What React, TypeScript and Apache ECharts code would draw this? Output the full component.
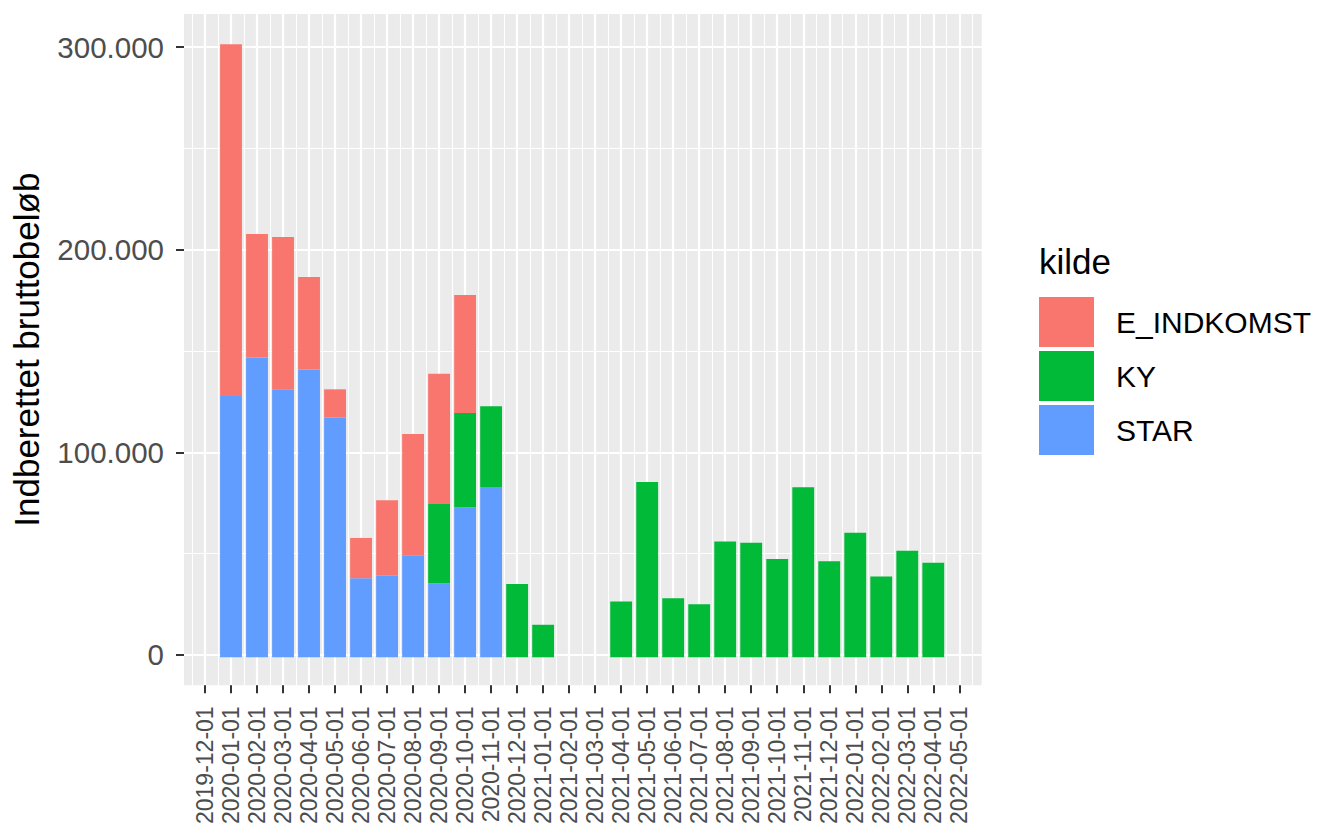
import React, { useEffect, useRef } from "react";
import * as echarts from "echarts";

const months: string[] = [
  "2019-12-01", "2020-01-01", "2020-02-01", "2020-03-01", "2020-04-01", "2020-05-01",
  "2020-06-01", "2020-07-01", "2020-08-01", "2020-09-01", "2020-10-01", "2020-11-01",
  "2020-12-01", "2021-01-01", "2021-02-01", "2021-03-01", "2021-04-01", "2021-05-01",
  "2021-06-01", "2021-07-01", "2021-08-01", "2021-09-01", "2021-10-01", "2021-11-01",
  "2021-12-01", "2022-01-01", "2022-02-01", "2022-03-01", "2022-04-01", "2022-05-01",
];

// one value per month in `months` (null = no bar)
const starValues: (number | null)[] = [
  null, 128500, 147400, 131800, 141500, 117900, 38900, 40100, 50200, 36400, 73800, 83800,
  null, null, null, null, null, null, null, null, null, null, null, null, null, null, null, null, null, null,
];
const kyValues: (number | null)[] = [
  null, null, null, null, null, null, null, null, null, 39000, 46400, 39700,
  36100, 16000, null, null, 27500, 86200, 29000, 26100, 56900, 56400, 48400, 83600, 47200, 61300, 39800, 52400, 46500, null,
];
const eIndkomstValues: (number | null)[] = [
  null, 173000, 60800, 74900, 45600, 13900, 19800, 37100, 59600, 64100, 58000, null,
  null, null, null, null, null, null, null, null, null, null, null, null, null, null, null, null, null, null,
];

const yMajorTicks: number[] = [0, 100000, 200000, 300000];
const yMinorTicks: number[] = [50000, 150000, 250000];

const FONT = "'Liberation Sans', Arial, sans-serif";

function fmtDa(v: number): string {
  const s = Math.round(v).toString();
  return s.replace(/\B(?=(\d{3})+(?!\d))/g, ".");
}

export default function App() {
  const ref = useRef<HTMLDivElement>(null);
  useEffect(() => {
    if (!ref.current) return;
    const chart = echarts.init(ref.current, null, { renderer: "svg" });
    const xMajor = months.map((_, i) => i);
    const xMinor = months.map((_, i) => i - 0.5).concat([months.length - 0.5]);
    const xMin = -0.807;
    const xMax = 29.86;
    const yMin = -15100;
    const yMax = 316400;
    const step = 26.01;
    const barLeft = 205 - step / 2;
    const barRight = 1317 - (barLeft + step * months.length);

    const option: any = {
      animation: false,
      backgroundColor: "#FFFFFF",
      textStyle: { fontFamily: FONT },
      grid: [
        {
          left: 184,
          right: 335.3,
          top: 14,
          bottom: 139,
          show: true,
          backgroundColor: "#EBEBEB",
          borderWidth: 0,
        },
        {
          left: barLeft,
          right: barRight,
          top: 14,
          bottom: 139,
          show: false,
        },
      ],
      legend: {
        orient: "vertical",
        left: 1039,
        top: 297,
        padding: 0,
        itemWidth: 55,
        itemHeight: 50,
        itemGap: 4,
        icon: "rect",
        data: ["E_INDKOMST", "KY", "STAR"],
        textStyle: { fontSize: 30, color: "#000000", fontFamily: FONT, padding: [0, 0, 0, 17] },
      },
      graphic: [
        {
          type: "text",
          left: 1039,
          top: 244,
          style: { text: "kilde", fontSize: 35, fill: "#000000", fontFamily: FONT },
        },
      ],
      xAxis: [
        {
          type: "value",
          gridIndex: 0,
          min: xMin,
          max: xMax,
          axisLine: { show: false, onZero: false },
          axisTick: {
            show: true,
            length: 8,
            lineStyle: { color: "#333333", width: 2 },
            customValues: xMajor,
          },
          axisLabel: {
            customValues: xMajor,
            rotate: 90,
            fontSize: 23,
            color: "#4D4D4D",
            margin: 21,
            fontFamily: FONT,
            formatter: (v: number) => months[Math.round(v)] ?? "",
          },
          splitLine: { show: true, lineStyle: { color: "#FFFFFF", width: 2.2 } },
        },
        {
          type: "value",
          gridIndex: 0,
          min: xMin,
          max: xMax,
          axisLine: { show: false, onZero: false },
          axisTick: { show: false, customValues: xMinor },
          axisLabel: { show: false, customValues: xMinor },
          splitLine: { show: true, lineStyle: { color: "#FFFFFF", width: 1.1 } },
        },
        {
          type: "category",
          gridIndex: 1,
          data: months,
          boundaryGap: true,
          axisLine: { show: false, onZero: false },
          axisTick: { show: false },
          axisLabel: { show: false },
          splitLine: { show: false },
        },
      ],
      yAxis: [
        {
          type: "value",
          gridIndex: 0,
          min: yMin,
          max: yMax,
          name: "Indberettet bruttobeløb",
          nameLocation: "middle",
          nameGap: 140,
          nameTextStyle: { fontSize: 35, color: "#000000", fontFamily: FONT },
          axisLine: { show: false, onZero: false },
          axisTick: {
            show: true,
            length: 8,
            lineStyle: { color: "#333333", width: 2 },
            customValues: yMajorTicks,
          },
          axisLabel: {
            customValues: yMajorTicks,
            fontSize: 29.5,
            color: "#4D4D4D",
            margin: 20,
            fontFamily: FONT,
            formatter: (v: number) => fmtDa(v),
          },
          splitLine: { show: true, lineStyle: { color: "#FFFFFF", width: 2.2 } },
        },
        {
          type: "value",
          gridIndex: 0,
          min: yMin,
          max: yMax,
          axisLine: { show: false, onZero: false },
          axisTick: { show: false, customValues: yMinorTicks },
          axisLabel: { show: false, customValues: yMinorTicks },
          splitLine: { show: true, lineStyle: { color: "#FFFFFF", width: 1.1 } },
        },
        {
          type: "value",
          gridIndex: 1,
          min: yMin,
          max: yMax,
          axisLine: { show: false, onZero: false },
          axisTick: { show: false },
          axisLabel: { show: false },
          splitLine: { show: false },
        },
      ],
      series: [
        {
          name: "STAR",
          type: "bar",
          stack: "total",
          xAxisIndex: 2,
          yAxisIndex: 2,
          barWidth: "84%",
          itemStyle: { color: "#619CFF" },
          data: starValues,
        },
        {
          name: "KY",
          type: "bar",
          stack: "total",
          xAxisIndex: 2,
          yAxisIndex: 2,
          barWidth: "84%",
          itemStyle: { color: "#00BA38" },
          data: kyValues,
        },
        {
          name: "E_INDKOMST",
          type: "bar",
          stack: "total",
          xAxisIndex: 2,
          yAxisIndex: 2,
          barWidth: "84%",
          itemStyle: { color: "#F8766D" },
          data: eIndkomstValues,
        },
      ],
    };
    chart.setOption(option);
    return () => chart.dispose();
  }, []);
  return (
    <div
      ref={ref}
      style={{ position: "fixed", left: 0, top: 0, width: 1317, height: 827 }}
    />
  );
}
